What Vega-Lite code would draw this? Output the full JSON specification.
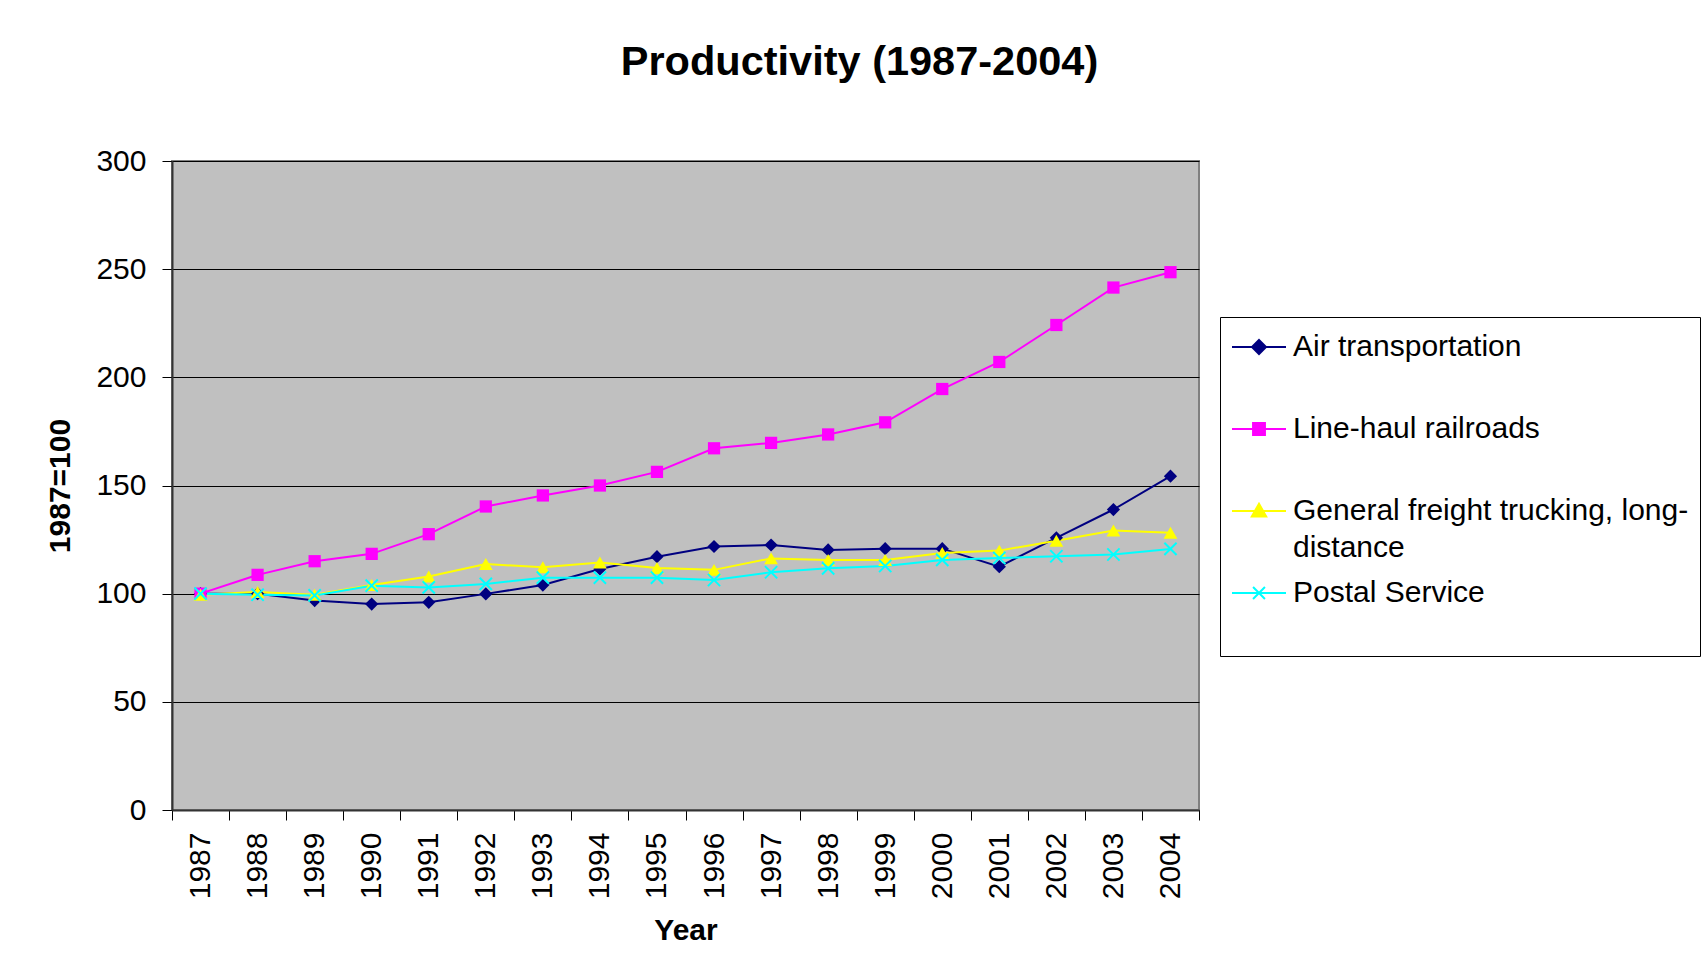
{
  "$schema": "https://vega.github.io/schema/vega-lite/v6.json",
  "width": 1027,
  "height": 649,
  "autosize": {"type": "none"},
  "padding": {"left": 172, "top": 161, "right": 507, "bottom": 166},
  "background": "white",
  "title": {
    "text": "Productivity (1987-2004)",
    "font": "Liberation Sans",
    "fontSize": 41.5,
    "fontWeight": "bold",
    "color": "black",
    "anchor": "middle",
    "dx": 174,
    "offset": 63
  },
  "data": {
    "values": [
      {"year": 1987, "series": "Air transportation", "value": 100},
      {"year": 1988, "series": "Air transportation", "value": 100},
      {"year": 1989, "series": "Air transportation", "value": 96.8},
      {"year": 1990, "series": "Air transportation", "value": 95.2},
      {"year": 1991, "series": "Air transportation", "value": 96},
      {"year": 1992, "series": "Air transportation", "value": 99.9},
      {"year": 1993, "series": "Air transportation", "value": 104},
      {"year": 1994, "series": "Air transportation", "value": 111.4},
      {"year": 1995, "series": "Air transportation", "value": 117.1},
      {"year": 1996, "series": "Air transportation", "value": 121.8},
      {"year": 1997, "series": "Air transportation", "value": 122.5},
      {"year": 1998, "series": "Air transportation", "value": 120.2},
      {"year": 1999, "series": "Air transportation", "value": 120.8},
      {"year": 2000, "series": "Air transportation", "value": 120.8},
      {"year": 2001, "series": "Air transportation", "value": 112.5},
      {"year": 2002, "series": "Air transportation", "value": 125.8},
      {"year": 2003, "series": "Air transportation", "value": 138.9},
      {"year": 2004, "series": "Air transportation", "value": 154.3},
      {"year": 1987, "series": "Line-haul railroads", "value": 100},
      {"year": 1988, "series": "Line-haul railroads", "value": 108.7},
      {"year": 1989, "series": "Line-haul railroads", "value": 115},
      {"year": 1990, "series": "Line-haul railroads", "value": 118.4},
      {"year": 1991, "series": "Line-haul railroads", "value": 127.5},
      {"year": 1992, "series": "Line-haul railroads", "value": 140.3},
      {"year": 1993, "series": "Line-haul railroads", "value": 145.4},
      {"year": 1994, "series": "Line-haul railroads", "value": 150},
      {"year": 1995, "series": "Line-haul railroads", "value": 156.3},
      {"year": 1996, "series": "Line-haul railroads", "value": 167.2},
      {"year": 1997, "series": "Line-haul railroads", "value": 169.7},
      {"year": 1998, "series": "Line-haul railroads", "value": 173.6},
      {"year": 1999, "series": "Line-haul railroads", "value": 179.2},
      {"year": 2000, "series": "Line-haul railroads", "value": 194.6},
      {"year": 2001, "series": "Line-haul railroads", "value": 207.1},
      {"year": 2002, "series": "Line-haul railroads", "value": 224.2},
      {"year": 2003, "series": "Line-haul railroads", "value": 241.5},
      {"year": 2004, "series": "Line-haul railroads", "value": 248.6},
      {"year": 1987, "series": "General freight trucking, long-distance", "value": 99.5},
      {"year": 1988, "series": "General freight trucking, long-distance", "value": 100.8},
      {"year": 1989, "series": "General freight trucking, long-distance", "value": 99.5},
      {"year": 1990, "series": "General freight trucking, long-distance", "value": 104},
      {"year": 1991, "series": "General freight trucking, long-distance", "value": 107.9},
      {"year": 1992, "series": "General freight trucking, long-distance", "value": 113.7},
      {"year": 1993, "series": "General freight trucking, long-distance", "value": 112.2},
      {"year": 1994, "series": "General freight trucking, long-distance", "value": 114.4},
      {"year": 1995, "series": "General freight trucking, long-distance", "value": 111.9},
      {"year": 1996, "series": "General freight trucking, long-distance", "value": 111},
      {"year": 1997, "series": "General freight trucking, long-distance", "value": 116.3},
      {"year": 1998, "series": "General freight trucking, long-distance", "value": 115.6},
      {"year": 1999, "series": "General freight trucking, long-distance", "value": 115.6},
      {"year": 2000, "series": "General freight trucking, long-distance", "value": 118.8},
      {"year": 2001, "series": "General freight trucking, long-distance", "value": 119.9},
      {"year": 2002, "series": "General freight trucking, long-distance", "value": 124.5},
      {"year": 2003, "series": "General freight trucking, long-distance", "value": 129.2},
      {"year": 2004, "series": "General freight trucking, long-distance", "value": 128.2},
      {"year": 1987, "series": "Postal Service", "value": 100},
      {"year": 1988, "series": "Postal Service", "value": 99.5},
      {"year": 1989, "series": "Postal Service", "value": 99.2},
      {"year": 1990, "series": "Postal Service", "value": 103.7},
      {"year": 1991, "series": "Postal Service", "value": 102.9},
      {"year": 1992, "series": "Postal Service", "value": 104.5},
      {"year": 1993, "series": "Postal Service", "value": 107.4},
      {"year": 1994, "series": "Postal Service", "value": 107.4},
      {"year": 1995, "series": "Postal Service", "value": 107.4},
      {"year": 1996, "series": "Postal Service", "value": 106.3},
      {"year": 1997, "series": "Postal Service", "value": 109.9},
      {"year": 1998, "series": "Postal Service", "value": 111.7},
      {"year": 1999, "series": "Postal Service", "value": 112.8},
      {"year": 2000, "series": "Postal Service", "value": 115.6},
      {"year": 2001, "series": "Postal Service", "value": 116.5},
      {"year": 2002, "series": "Postal Service", "value": 117.3},
      {"year": 2003, "series": "Postal Service", "value": 118.1},
      {"year": 2004, "series": "Postal Service", "value": 120.7}
    ]
  },
  "encoding": {
    "x": {"field": "year", "type": "quantitative", "axis": null},
    "y": {"field": "value", "type": "quantitative"},
    "color": {
      "field": "series",
      "type": "nominal",
      "scale": {
        "domain": ["Air transportation", "Line-haul railroads", "General freight trucking, long-distance", "Postal Service"],
        "range": ["#000080", "#FF00FF", "#FFFF00", "#00FFFF"]
      },
      "legend": {
        "title": null,
        "orient": "none",
        "legendX": 1048,
        "legendY": 156,
        "strokeColor": "black",
        "fillColor": "white",
        "padding": 11,
        "rowPadding": 11,
        "labelFont": "Liberation Sans",
        "labelFontSize": 30,
        "labelColor": "black",
        "labelLimit": 1000,
        "labelOffset": 24,
        "symbolSize": 1296,
        "symbolStrokeWidth": 2,
        "labelExpr": "datum.label == 'General freight trucking, long-distance' ? ['General freight trucking, long-', 'distance'] : [datum.label, '']",
        "encoding": {"labels": {"lineHeight": {"value": 37}}}
      }
    }
  },
  "layer": [
    {
      "mark": {"type": "line", "strokeWidth": 2},
      "encoding": {
        "x": {
          "field": "year",
          "type": "quantitative",
          "scale": {"domain": [1986.5, 2004.5], "nice": false, "zero": false},
          "axis": {
            "orient": "bottom",
            "values": [1987, 1988, 1989, 1990, 1991, 1992, 1993, 1994, 1995, 1996, 1997, 1998, 1999, 2000, 2001, 2002, 2003, 2004],
            "format": "d",
            "ticks": false,
            "domain": false,
            "grid": false,
            "labelAngle": -90,
            "labelAlign": "right",
            "labelBaseline": "middle",
            "labelPadding": 22,
            "labelFont": "Liberation Sans",
            "labelFontSize": 30,
            "labelColor": "black",
            "labelFlush": false,
            "labelOverlap": false,
            "title": "Year",
            "titleFont": "Liberation Sans",
            "titleFontSize": 30,
            "titleFontWeight": "bold",
            "titleColor": "black",
            "titlePadding": 17
          }
        },
        "y": {
          "field": "value",
          "type": "quantitative",
          "scale": {"domain": [0, 300], "nice": false},
          "axis": {
            "values": [0, 50, 100, 150, 200, 250, 300],
            "grid": true,
            "gridColor": "black",
            "gridWidth": 1,
            "gridOpacity": 1,
            "domainColor": "#333333",
            "domainWidth": 2,
            "tickColor": "black",
            "tickSize": 10,
            "tickWidth": 1,
            "labelPadding": 16,
            "labelFont": "Liberation Sans",
            "labelFontSize": 30,
            "labelColor": "black",
            "labelFlush": false,
            "title": "1987=100",
            "titleFont": "Liberation Sans",
            "titleFontSize": 30,
            "titleFontWeight": "bold",
            "titleColor": "black",
            "titlePadding": 20
          }
        }
      }
    },
    {
      "transform": [{"filter": "datum.series == 'Air transportation'"}],
      "mark": {"type": "point", "shape": "diamond", "filled": true, "size": 175, "opacity": 1},
      "encoding": {
        "x": {
          "field": "year",
          "type": "quantitative",
          "axis": {
            "orient": "bottom",
            "values": [1986.5, 1987.5, 1988.5, 1989.5, 1990.5, 1991.5, 1992.5, 1993.5, 1994.5, 1995.5, 1996.5, 1997.5, 1998.5, 1999.5, 2000.5, 2001.5, 2002.5, 2003.5, 2004.5],
            "labels": false,
            "grid": false,
            "title": null,
            "ticks": true,
            "tickSize": 10,
            "tickColor": "black",
            "tickWidth": 1,
            "domain": true,
            "domainColor": "#333333",
            "domainWidth": 2
          }
        }
      }
    },
    {
      "transform": [{"filter": "datum.series == 'Line-haul railroads'"}],
      "mark": {"type": "point", "shape": "square", "filled": true, "size": 150, "opacity": 1}
    },
    {
      "transform": [{"filter": "datum.series == 'General freight trucking, long-distance'"}],
      "mark": {"type": "point", "shape": "triangle-up", "filled": true, "size": 190, "opacity": 1}
    },
    {
      "transform": [{"filter": "datum.series == 'Postal Service'"}],
      "mark": {"type": "point", "shape": "M-1,-1L1,1M-1,1L1,-1", "filled": false, "size": 150, "strokeWidth": 2, "opacity": 1}
    },
    {
      "transform": [{"filter": "false"}],
      "mark": {"type": "point", "filled": true, "strokeWidth": 2, "opacity": 1},
      "encoding": {
        "shape": {
          "field": "series",
          "type": "nominal",
          "scale": {
            "domain": ["Air transportation", "Line-haul railroads", "General freight trucking, long-distance", "Postal Service"],
            "range": [
              "M-1,0H2M0.5,-0.39L0.89,0L0.5,0.39L0.11,0Z",
              "M-1,0H2M0.17,-0.33H0.83V0.33H0.17Z",
              "M-1,0H2M0.5,-0.4L0.9,0.3H0.1Z",
              "M-1,0H2M0.17,-0.33L0.83,0.33M0.17,0.33L0.83,-0.33"
            ]
          },
          "legend": {
            "title": null,
            "orient": "none",
            "legendX": 1048,
            "legendY": 156,
            "strokeColor": "black",
            "fillColor": "white",
            "padding": 11,
            "rowPadding": 11,
            "labelFont": "Liberation Sans",
            "labelFontSize": 30,
            "labelColor": "black",
            "labelLimit": 1000,
            "labelOffset": 24,
            "symbolSize": 1296,
            "symbolStrokeWidth": 2,
            "labelExpr": "datum.label == 'General freight trucking, long-distance' ? ['General freight trucking, long-', 'distance'] : [datum.label, '']",
            "encoding": {"labels": {"lineHeight": {"value": 37}}}
          }
        }
      }
    }
  ],
  "resolve": {"axis": {"x": "independent"}},
  "config": {
    "view": {"fill": "#C0C0C0", "stroke": "#808080", "strokeWidth": 2},
    "font": "Liberation Sans"
  }
}
